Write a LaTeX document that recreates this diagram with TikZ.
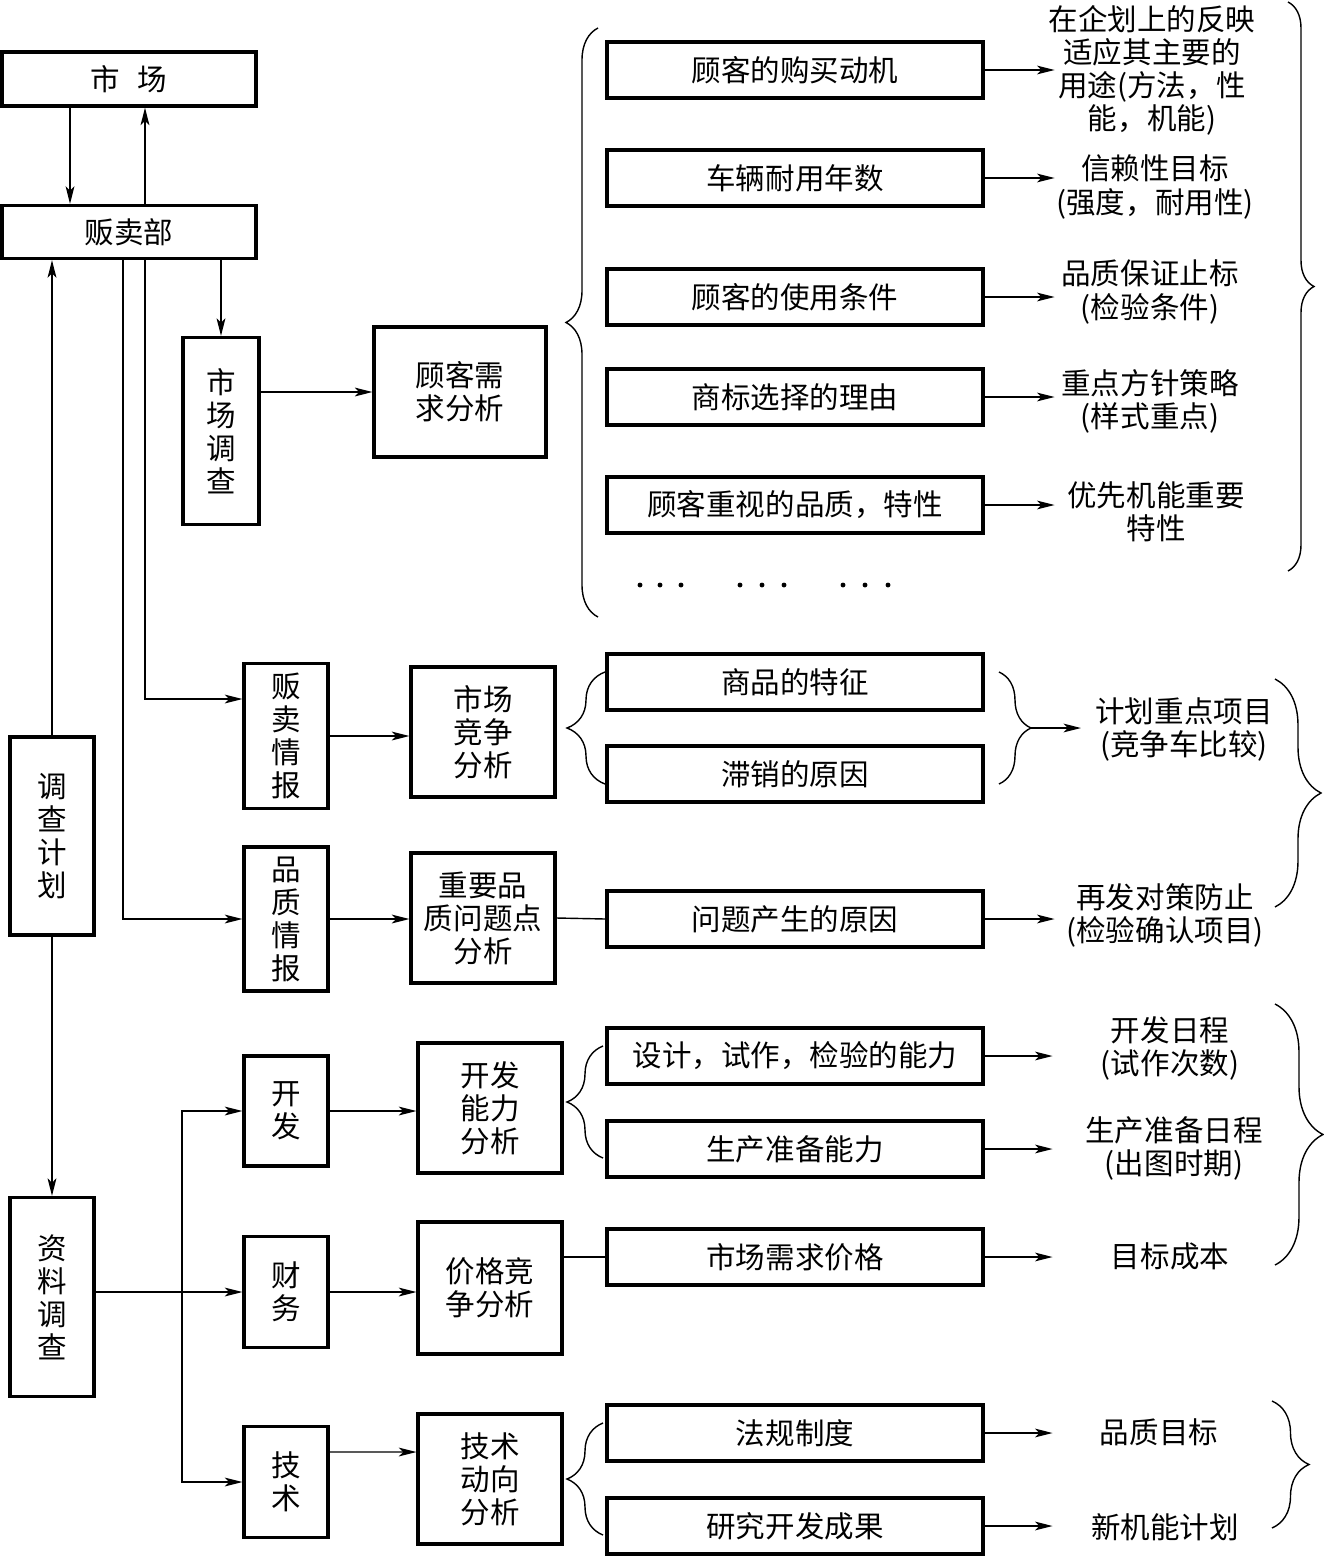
\documentclass[tikz,border=0pt]{standalone}
\usepackage{fontspec}
\setmainfont{Noto Sans CJK SC}
\usetikzlibrary{arrows.meta,decorations.pathreplacing}

\begin{document}
\begin{tikzpicture}[x=0.02cm, y=-0.02cm,
        font=\fontsize{16.8}{18.8}\selectfont,
        box/.style={draw, line width=1.8pt, align=center, inner sep=0pt},
        wide/.style={box, minimum width=7.52cm, minimum height=1.12cm},
        tall/.style={box, minimum width=1.68cm},
        ana/.style={box, minimum width=2.88cm, minimum height=2.6cm},
        lbl/.style={align=center, inner sep=0pt},
        arr/.style={-{Stealth[length=10pt, width=5pt, inset=2.5pt]}, line width=0.8pt},
        ln/.style={line width=0.8pt},
        brc/.style={decorate, decoration={brace, amplitude=#1}, line width=0.8pt}]
        \useasboundingbox (0,0) rectangle (1324,1556);
        \node[box, minimum width=5.08cm, minimum height=1.08cm] (mkt) at (129,79) {市\hspace{0.6em}场};
        \node[box, minimum width=5.08cm, minimum height=1.06cm] (sales) at (129,232) {贩卖部};
        \node[box, minimum width=1.52cm, minimum height=3.74cm] (survey) at (221,431) {市\\场\\调\\查};
        \node[box, minimum width=3.44cm, minimum height=2.6cm] (need) at (460,392) {顾客需\\求分析};
        \node[wide] (c1) at (795,70) {顾客的购买动机};
        \node[wide] (c2) at (795,178) {车辆耐用年数};
        \node[wide] (c3) at (795,297) {顾客的使用条件};
        \node[wide] (c4) at (795,397) {商标选择的理由};
        \node[wide] (c5) at (795,505) {顾客重视的品质，特性};
        \node[lbl] (t1) at (1152,70) {在企划上的反映\\适应其主要的\\用途(方法，性\\能，机能)};
        \node[lbl] (t2) at (1155,187) {信赖性目标\\(强度，耐用性)};
        \node[lbl] (t3) at (1150,292) {品质保证止标\\(检验条件)};
        \node[lbl] (t4) at (1150,401) {重点方针策略\\(样式重点)};
        \node[lbl] (t5) at (1156,512) {优先机能重要\\特性};
        \foreach \i in {1,...,5} \draw[arr] (c\i.east) -- ++(70,0);
        \foreach \x in {640,660,681,740,762,784,843,865,888} \fill (\x,585) circle (1.4pt);
        \draw[brc=0.64cm] (598,617) -- (598,28);
        \draw[brc=0.52cm] (1288,2) -- (1288,571);

        \node[tall, minimum height=2.9cm] (info1) at (286,736) {贩\\卖\\情\\报};
        \node[ana] (comp) at (483,732) {市场\\竞争\\分析};
        \node[wide] (d1) at (795,682) {商品的特征};
        \node[wide] (d2) at (795,774) {滞销的原因};
        \node[lbl] (focus) at (1184,729) {计划重点项目\\(竞争车比较)};
        \node[tall, minimum height=2.88cm] (info2) at (286,919) {品\\质\\情\\报};
        \node[ana] (key) at (483,918) {重要品\\质问题点\\分析};
        \node[wide] (d3) at (795,919) {问题产生的原因};
        \node[lbl] (recur) at (1165,915) {再发对策防止\\(检验确认项目)};
        \draw[brc=0.76cm] (605,784) -- (605,672);
        \draw[brc=0.64cm] (999,672) -- (999,784);
        \coordinate (cmp) at (1031,728);
        \draw[arr] (cmp) -- ++(50,0);
        \draw[brc=0.92cm] (1275,679) -- (1275,907);

        \node[tall, minimum height=3.96cm] (plan) at (52,836) {调\\查\\计\\划};
        \node[tall, minimum height=3.98cm] (data) at (52,1297) {资\\料\\调\\查};
        \node[tall, minimum height=2.2cm] (dev) at (286,1111) {开\\发};
        \node[ana] (devan) at (490,1108) {开发\\能力\\分析};
        \node[tall, minimum height=2.22cm] (fin) at (286,1292) {财\\务};
        \node[ana, minimum height=2.64cm] (price) at (490,1288) {价格竞\\争分析};
        \node[tall, minimum height=2.22cm] (tech) at (286,1482) {技\\术};
        \node[ana] (techan) at (490,1479) {技术\\动向\\分析};
        \node[wide] (e1) at (795,1056) {设计，试作，检验的能力};
        \node[wide] (e2) at (795,1149) {生产准备能力};
        \node[wide] (e3) at (795,1257) {市场需求价格};
        \node[wide] (e4) at (795,1433) {法规制度};
        \node[wide] (e5) at (795,1526) {研究开发成果};
        \node[lbl] (s1) at (1170,1048) {开发日程\\(试作次数)};
        \node[lbl] (s2) at (1174,1148) {生产准备日程\\(出图时期)};
        \node[lbl] (s3) at (1170,1256) {目标成本};
        \node[lbl] (s4) at (1159,1432) {品质目标};
        \node[lbl] (s5) at (1165,1527) {新机能计划};
        \foreach \i in {1,...,5} \draw[arr] (e\i.east) -- ++(68,0);
        \draw[brc=0.72cm] (603,1158) -- (603,1046);
        \draw[brc=0.72cm] (603,1535) -- (603,1423);
        \draw[brc=0.96cm] (1275,1004) -- (1275,1265);
        \draw[brc=0.74cm] (1272,1401) -- (1272,1528);

        \draw[arr] ([xshift=-1.18cm]mkt.south) -- ([xshift=-1.18cm]sales.north);
        \draw[arr] ([xshift=0.32cm]sales.north) -- ([xshift=0.32cm]mkt.south);
        \draw[arr] (survey.north |- sales.south) -- (survey.north);
        \draw[arr] (survey.east |- need.west) -- (need.west);
        \draw[arr] ([xshift=0.32cm]sales.south) |- ([yshift=0.74cm]info1.west);
        \draw[arr] ([xshift=-0.12cm]sales.south) |- (info2.west);
        \draw[arr] (info1.east) -- (comp.west |- info1.east);
        \draw[arr] (info2.east) -- (key.west |- info2.east);
        \draw[ln] (key.east) -- (d3.west);
        \draw[arr] (d3.east) -- ++(70,0);
        \draw[arr] (plan.north) -- (plan.north |- sales.south);
        \draw[arr] (plan.south) -- (data.north);
        \coordinate (split) at (182,1292);
        \draw[arr] (data.east |- fin.west) -- (fin.west);
        \draw[arr] (split) |- (dev.west);
        \draw[arr] (split) |- (tech.west);
        \draw[arr] (dev.east) -- (devan.west |- dev.east);
        \draw[arr] (fin.east) -- (price.west |- fin.east);
        \draw[arr] ([yshift=0.6cm]tech.east) -- ([yshift=0.54cm]techan.west);
        \draw[ln] (price.east |- e3.west) -- (e3.west);
\end{tikzpicture}
\end{document}
